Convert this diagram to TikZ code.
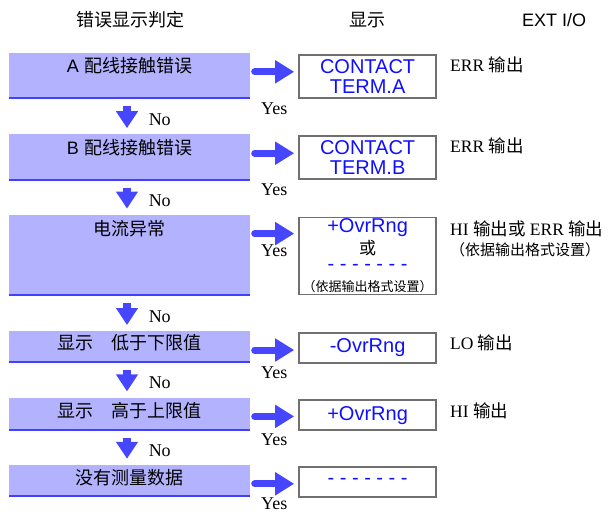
\documentclass[tikz,border=0pt]{standalone}
\usepackage{fontspec}
\setmainfont{Liberation Serif}
\setsansfont{Liberation Sans}
\newfontfamily\cjk{Noto Sans CJK SC}
\usetikzlibrary{arrows.meta, positioning}
\definecolor{boxfill}{RGB}{178,178,255}
\definecolor{edgeblue}{RGB}{64,64,255}
\definecolor{arrowblue}{RGB}{70,70,255}
\definecolor{textblue}{RGB}{16,16,255}
\definecolor{framegray}{RGB}{112,112,112}
\newcommand{\zh}[1]{{\cjk #1}}
\newcommand{\boxfont}{\fontsize{18}{20}\selectfont\sffamily}
\newcommand{\dispfont}{\fontsize{20}{20}\selectfont\sffamily}
\newcommand{\sidefont}{\fontsize{17.5}{20}\selectfont\rmfamily}
\newcommand{\ynfont}{\fontsize{18}{20}\selectfont\rmfamily}
\newcommand{\notefont}{\fontsize{13}{15}\selectfont}
\tikzset{
  lbox/.style={rectangle, fill=boxfill, minimum width=241pt, inner sep=0pt},
  baseedge/.style={draw=edgeblue, line width=2pt},
  ltext/.style={font=\boxfont, inner sep=0pt},
  rbox/.style={rectangle, draw=framegray, line width=1.8pt, fill=white, minimum width=137pt, inner sep=0pt, align=center, text=textblue, font=\dispfont},
  disp/.style={font=\dispfont, text=textblue, inner sep=0pt},
  head/.style={font=\boxfont, inner sep=0pt},
  side/.style={anchor=west, font=\sidefont, inner sep=0pt},
  yesno/.style={font=\ynfont, inner sep=0pt},
  rarrow/.style={draw=arrowblue, line width=7pt, line cap=round, -{Triangle[length=19pt, width=22pt]}},
  darrow/.style={draw=arrowblue, line width=7.5pt, -{Triangle[length=17pt, width=21pt]}}
}

\begin{document}
\begin{tikzpicture}[x=1pt, y=-1pt]
\useasboundingbox (0,0) rectangle (612,511);

% Column heads
\node[head] (h1) at (130,20) {\zh{错误显示判定}};
\node[head] (h2) at (367,20) {\zh{显示}};
\node[head] (h3) at (554,20) {EXT I/O};

% Judgement boxes
\node[lbox, minimum height=45pt] (lb1) at (129.5,75.5) {};
\node[lbox, minimum height=45pt, below=36pt of lb1] (lb2) {};
\node[lbox, minimum height=80pt, below=35pt of lb2] (lb3) {};
\node[lbox, minimum height=31pt, below=36pt of lb3] (lb4) {};
\node[lbox, minimum height=32pt, below=35pt of lb4] (lb5) {};
\node[lbox, minimum height=31pt, below=35pt of lb5] (lb6) {};
\draw[baseedge] (lb1.south west) -- (lb1.south east);
\draw[baseedge] (lb2.south west) -- (lb2.south east);
\draw[baseedge] (lb3.south west) -- (lb3.south east);
\draw[baseedge] (lb4.south west) -- (lb4.south east);
\draw[baseedge] (lb5.south west) -- (lb5.south east);
\draw[baseedge] (lb6.south west) -- (lb6.south east);

\node[ltext] (t1) at ([yshift=-13pt]lb1.north) {A \zh{配线接触错误}};
\node[ltext] (t2) at ([yshift=-13pt]lb2.north) {B \zh{配线接触错误}};
\node[ltext] (t3) at ([yshift=-14pt]lb3.north) {\zh{电流异常}};
\node[ltext] (t4) at ([yshift=-12pt]lb4.north) {\zh{显示　低于下限值}};
\node[ltext] (t5) at ([yshift=-13pt]lb5.north) {\zh{显示　高于上限值}};
\node[ltext] (t6) at ([yshift=-13pt]lb6.north) {\zh{没有测量数据}};

% Display boxes
\node[rbox, minimum height=43pt, right=48pt of lb1.north east, anchor=north west, yshift=-1pt] (rb1) {CONTACT\\TERM.A};
\node[rbox, minimum height=43pt, right=48pt of lb2.north east, anchor=north west, yshift=-1pt] (rb2) {CONTACT\\TERM.B};
\node[rbox, minimum height=77pt, right=48pt of lb3.north east, anchor=north west, yshift=-2pt] (rb3) {};
\node[rbox, minimum height=30pt, right=48pt of lb4.north east, anchor=north west, yshift=-1pt] (rb4) {-OvrRng};
\node[rbox, minimum height=30pt, right=48pt of lb5.north east, anchor=north west, yshift=-2pt] (rb5) {+OvrRng};
\node[rbox, minimum height=30pt, right=48pt of lb6.north east, anchor=north west, yshift=-1pt] (rb6) {- - - - - - -};

\node[disp] (o3a) at ([yshift=-11pt]rb3.north) {+OvrRng};
\node[inner sep=0pt, font=\fontsize{17}{18}\selectfont] (o3b) at ([yshift=-31pt]rb3.north) {\zh{或}};
\node[disp] (o3c) at ([yshift=-51pt]rb3.north) {- - - - - - -};
\node[inner sep=0pt, font=\notefont] (o3d) at ([yshift=-70pt]rb3.north) {\zh{（依据输出格式设置）}};

% EXT I/O outputs
\node[side] (s1) at ([shift={(13pt,-11pt)}]rb1.north east) {ERR \zh{输出}};
\node[side] (s2) at ([shift={(13pt,-11pt)}]rb2.north east) {ERR \zh{输出}};
\node[side] (s3) at ([shift={(13pt,-12pt)}]rb3.north east) {HI \zh{输出或} ERR \zh{输出}};
\node[side, font=\fontsize{15}{16}\selectfont] (s3b) at ([shift={(13pt,-33pt)}]rb3.north east) {\zh{（依据输出格式设置）}};
\node[side] (s4) at ([shift={(13pt,-11pt)}]rb4.north east) {LO \zh{输出}};
\node[side] (s5) at ([shift={(13pt,-11pt)}]rb5.north east) {HI \zh{输出}};

% Yes arrows
\draw[rarrow] ([shift={(4.5pt,-19pt)}]lb1.north east) -- ([shift={(-4pt,-18pt)}]rb1.north west);
\draw[rarrow] ([shift={(4.5pt,-19pt)}]lb2.north east) -- ([shift={(-4pt,-18pt)}]rb2.north west);
\draw[rarrow] ([shift={(4.5pt,-19pt)}]lb3.north east) -- ([shift={(-4pt,-17pt)}]rb3.north west);
\draw[rarrow] ([shift={(4.5pt,-19pt)}]lb4.north east) -- ([shift={(-4pt,-18pt)}]rb4.north west);
\draw[rarrow] ([shift={(4.5pt,-19pt)}]lb5.north east) -- ([shift={(-4pt,-17pt)}]rb5.north west);
\draw[rarrow] ([shift={(4.5pt,-19pt)}]lb6.north east) -- ([shift={(-4pt,-18pt)}]rb6.north west);

\node[yesno] (y1) at ([shift={(24pt,-10pt)}]lb1.south east) {Yes};
\node[yesno] (y2) at ([shift={(24pt,-10pt)}]lb2.south east) {Yes};
\node[yesno] (y3) at ([shift={(24pt,-36pt)}]lb3.north east) {Yes};
\node[yesno] (y4) at ([shift={(24pt,-10pt)}]lb4.south east) {Yes};
\node[yesno] (y5) at ([shift={(24pt,-10pt)}]lb5.south east) {Yes};
\node[yesno] (y6) at ([shift={(24pt,-7pt)}]lb6.south east) {Yes};

% No arrows
\draw[darrow] ([shift={(-2.5pt,-8pt)}]lb1.south) -- node[yesno, right=18pt, pos=0.6] (n1) {No} ([shift={(-2.5pt,6pt)}]lb2.north);
\draw[darrow] ([shift={(-2.5pt,-8pt)}]lb2.south) -- node[yesno, right=18pt, pos=0.6] (n2) {No} ([shift={(-2.5pt,6pt)}]lb3.north);
\draw[darrow] ([shift={(-2.5pt,-8pt)}]lb3.south) -- node[yesno, right=18pt, pos=0.6] (n3) {No} ([shift={(-2.5pt,6pt)}]lb4.north);
\draw[darrow] ([shift={(-2.5pt,-8pt)}]lb4.south) -- node[yesno, right=18pt, pos=0.6] (n4) {No} ([shift={(-2.5pt,6pt)}]lb5.north);
\draw[darrow] ([shift={(-2.5pt,-8pt)}]lb5.south) -- node[yesno, right=18pt, pos=0.6] (n5) {No} ([shift={(-2.5pt,6pt)}]lb6.north);

\end{tikzpicture}
\end{document}
